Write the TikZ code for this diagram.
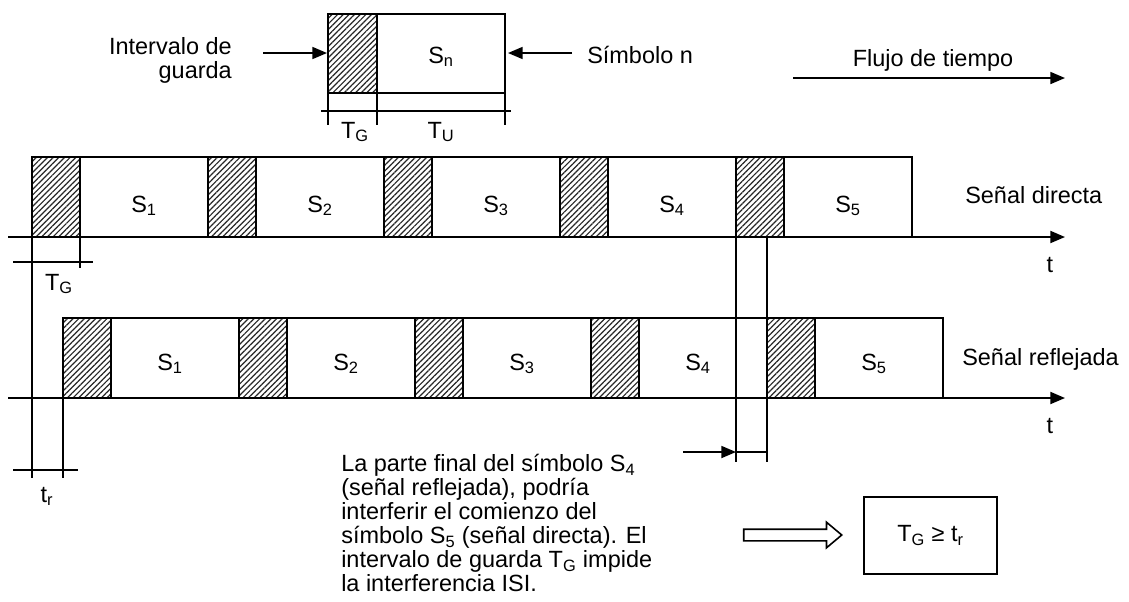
\documentclass[tikz,border=0pt]{standalone}
\usepackage{fontspec}
\setmainfont{Liberation Sans}
\usepackage{tikz}
\usetikzlibrary{arrows.meta,patterns.meta,shapes.arrows}

\newcommand{\lbl}{\fontsize{17.6pt}{18pt}\selectfont}

\tikzset{
  guard/.style={draw,line width=1.4pt,pattern={Lines[angle=45,distance=3pt,line width=0.9pt]},pattern color=black!85},
  slot/.style={draw,line width=1.4pt},
  dim/.style={line width=1.3pt},
  txt/.style={inner sep=0pt,font=\lbl},
}

\begin{document}
\begin{tikzpicture}[x=0.75pt, y=-0.75pt, >={Triangle[length=11pt,width=9pt]}]
\useasboundingbox (0,0) rectangle (1129,601);

% symbol n
\draw[guard] (328,14) rectangle (377,93);
\draw[slot] (377,14) rectangle (505,93);
\draw[dim] (321,111) -- (511,111);
\foreach \x in {328,377,505}
	\draw[dim] (\x,93) -- (\x,125);
\node[txt,anchor=base] (sn) at (441,63) {S\textsubscript{n}};
\node[txt,anchor=base] (tgn) at (355,138) {T\textsubscript{G}};
\node[txt,anchor=base] (tun) at (441,138) {T\textsubscript{U}};

\node[txt,anchor=north east,align=right] (ig) at (232,37) {Intervalo de\\guarda};
\coordinate (igt) at (263,53);
\coordinate (igh) at (327,53);
\draw[->,dim] (igt) -- (igh);

\node[txt,anchor=base west] (symn) at (587,63) {Símbolo n};
\coordinate (snt) at (572,53);
\coordinate (snh) at (508,53);
\draw[->,dim] (snt) -- (snh);

\node[txt,anchor=base] (flujo) at (933,66) {Flujo de tiempo};
\coordinate (ft) at (793,78);
\coordinate (fh) at (1065,78);
\draw[->,dim] (ft) -- (fh);

% direct signal
\foreach \k [count=\n] in {0,...,4}
{
	\draw[guard] ({32+176*\k},157) rectangle ({80+176*\k},237);
	\draw[slot] ({80+176*\k},157) rectangle ({208+176*\k},237);
	\node[txt,anchor=base] (d\n) at ({144+176*\k},212) {S\textsubscript{\n}};
}
\coordinate (da) at (8,237);
\coordinate (db) at (1065,237);
\draw[->,line width=1.4pt] (da) -- (db);
\node[txt,anchor=base] (td) at (1050,272) {t};
\node[txt,anchor=base west] (sd) at (965,203) {Señal directa};

% reflected signal
\foreach \k [count=\n] in {0,...,4}
{
	\draw[guard] ({63+176*\k},318) rectangle ({111+176*\k},398);
	\draw[slot] ({111+176*\k},318) rectangle ({239+176*\k},398);
	\node[txt,anchor=base] (r\n) at ({170+176*\k},370) {S\textsubscript{\n}};
}
\coordinate (ra) at (8,398);
\coordinate (rb) at (1065,398);
\draw[->,line width=1.4pt] (ra) -- (rb);
\node[txt,anchor=base] (tr) at (1050,433) {t};
\node[txt,anchor=base west] (sr) at (962,365) {Señal reflejada};

% guard interval and delay
\draw[dim] (32,237) -- (32,478);
\draw[dim] (80,237) -- (80,268);
\draw[dim] (13,262) -- (93,262);
\node[txt,anchor=base] (tg) at (59,290) {T\textsubscript{G}};
\draw[dim] (63,398) -- (63,478);
\draw[dim] (13,470) -- (78,470);
\node[txt,anchor=base] (tdel) at (47,502) {t\textsubscript{r}};

% overlap
\draw[dim] (736,237) -- (736,462);
\draw[dim] (767,237) -- (767,462);
\draw[dim] (736,452) -- (767,452);
\coordinate (ot) at (683,452);
\coordinate (oh) at (736,452);
\draw[->,dim] (ot) -- (oh);

\node[txt,anchor=north west,align=left] (note) at (341,454)
	{La parte final del símbolo S\textsubscript{4}\\(señal reflejada), podría\\interferir el comienzo del\\símbolo S\textsubscript{5} (señal directa). El\\intervalo de guarda T\textsubscript{G} impide\\la interferencia ISI.};

\node[single arrow,draw,line width=1.2pt,anchor=tip,minimum height=73.5pt,inner xsep=0pt,inner ysep=3.75pt,single arrow head extend=5.25pt,single arrow tip angle=80] (imp) at (843,535) {};
\node[txt,draw,line width=1.4pt,minimum width=99.75pt,minimum height=57.75pt] (cond) at (930.5,535.5) {T\textsubscript{G} ≥ t\textsubscript{r}};

\end{tikzpicture}
\end{document}
